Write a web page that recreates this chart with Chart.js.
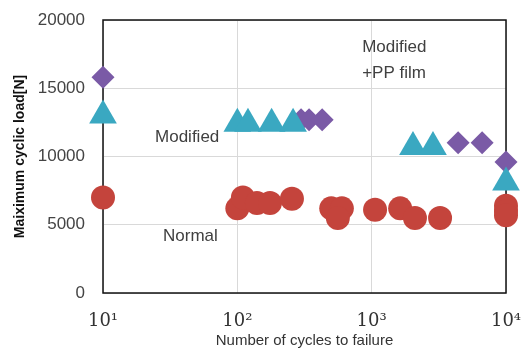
<!DOCTYPE html>
<html>
<head>
<meta charset="utf-8">
<script src="https://cdn.jsdelivr.net/npm/chart.js@4/dist/chart.umd.min.js"></script>
<style>
  html, body { margin: 0; padding: 0; background: #fff; }
  #wrap { width: 524px; height: 352px; position: relative; }
</style>
</head>
<body>
<div id="wrap"><canvas id="chart"></canvas></div>
<script>
// cycles to failure / max load [N]
const normalCycles = [10, 100, 110, 140, 175, 255, 500, 600, 560, 1060, 1630, 2100, 3230, 10000, 10000, 10000];
const normalLoad = [7000, 6200, 7000, 6600, 6600, 6900, 6200, 6200, 5500, 6100, 6200, 5500, 5500, 6400, 6000, 5700];

const modifiedCycles = [10, 100, 120, 180, 260, 2030, 2860, 10000];
const modifiedLoad = [13000, 12400, 12400, 12400, 12400, 10700, 10700, 8100];

const ppCycles = [10, 298, 342, 428, 4400, 6640, 10000];
const ppLoad = [15800, 12700, 12700, 12700, 11000, 11000, 9600];

const xTicks = [10, 100, 1000, 10000];
const xTickLabels = ['10¹', '10²', '10³', '10⁴'];
const yTicks = [0, 5000, 10000, 15000, 20000];

const toPoints = (xs, ys) => xs.map((x, i) => ({ x: x, y: ys[i] }));

const labelPlugin = {
    id: 'labels',
    afterDatasetsDraw(chart) {
        const ctx = chart.ctx;
        const xs = chart.scales.x, ys = chart.scales.y;
        ctx.save();
        ctx.fillStyle = '#404040';
        ctx.font = '17px "Liberation Sans", Arial, sans-serif';
        ctx.textBaseline = 'middle';
        ctx.textAlign = 'left';
        ctx.fillText('Modified', xs.getPixelForValue(24.4), ys.getPixelForValue(11430));
        ctx.fillText('Normal', xs.getPixelForValue(28), ys.getPixelForValue(4175));
        ctx.fillText('Modified', xs.getPixelForValue(850), ys.getPixelForValue(18020));
        ctx.fillText('+PP film', xs.getPixelForValue(850), ys.getPixelForValue(16120));
        ctx.restore();
    }
};

const boxPlugin = {
    id: 'box',
    beforeDatasetsDraw(chart) {
        const a = chart.chartArea;
        const ctx = chart.ctx;
        ctx.save();
        ctx.strokeStyle = '#111';
        ctx.lineWidth = 1.5;
        ctx.strokeRect(a.left, a.top, a.right - a.left, a.bottom - a.top);
        ctx.restore();
    }
};

new Chart(document.getElementById('chart'), {
    type: 'scatter',
    data: {
        datasets: [
            {
                label: 'Normal',
                data: toPoints(normalCycles, normalLoad),
                pointStyle: 'circle',
                pointRadius: 12,
                backgroundColor: '#c4443c',
                borderColor: '#c4443c',
                borderWidth: 0,
                clip: false
            },
            {
                label: 'Modified',
                data: toPoints(modifiedCycles, modifiedLoad),
                pointStyle: 'triangle',
                pointRadius: 16,
                backgroundColor: '#3aa8c1',
                borderColor: '#3aa8c1',
                borderWidth: 0,
                clip: false
            },
            {
                label: 'Modified+PP film',
                data: toPoints(ppCycles, ppLoad),
                pointStyle: 'rectRot',
                pointRadius: 11.5,
                backgroundColor: '#7a5aa6',
                borderColor: '#7a5aa6',
                borderWidth: 0,
                clip: false
            }
        ]
    },
    options: {
        responsive: true,
        maintainAspectRatio: false,
        animation: false,
        events: [],
        layout: { autoPadding: false, padding: { top: 20, right: 18, left: 0, bottom: 0 } },
        plugins: {
            legend: { display: false },
            tooltip: { enabled: false }
        },
        scales: {
            x: {
                type: 'logarithmic',
                min: 10,
                max: 10000,
                afterBuildTicks(scale) {
                    scale.ticks = xTicks.map(v => ({ value: v }));
                },
                afterFit(scale) {
                    scale.height = 59;
                    scale.paddingLeft = 0;
                    scale.paddingRight = 0;
                },
                ticks: {
                    autoSkip: false,
                    maxRotation: 0,
                    color: '#333',
                    font: { size: 18, family: '"DejaVu Serif", serif' },
                    padding: 18,
                    callback: (v) => xTickLabels[xTicks.indexOf(v)] || ''
                },
                grid: { color: '#d9d9d9', drawTicks: false },
                border: { display: false },
                title: {
                    display: true,
                    text: 'Number of cycles to failure',
                    color: '#333',
                    font: { size: 15, family: '"Liberation Sans", Arial, sans-serif' },
                    padding: { top: 0, bottom: 2 }
                }
            },
            y: {
                min: 0,
                max: 20000,
                afterBuildTicks(scale) {
                    scale.ticks = yTicks.map(v => ({ value: v }));
                },
                afterFit(scale) {
                    scale.width = 103;
                    scale.paddingTop = 0;
                    scale.paddingBottom = 0;
                },
                ticks: {
                    color: '#444',
                    font: { size: 17, family: '"Liberation Sans", Arial, sans-serif' },
                    padding: 18,
                    callback: (v) => String(v)
                },
                grid: { color: '#d9d9d9', drawTicks: false },
                border: { display: false },
                title: {
                    display: true,
                    text: 'Maiximum cyclic load[N]',
                    color: '#111',
                    font: { size: 14, weight: 'bold', family: '"Liberation Sans", Arial, sans-serif' },
                    padding: { top: 12, bottom: 2 }
                }
            }
        }
    },
    plugins: [labelPlugin, boxPlugin]
});
</script>
</body>
</html>
